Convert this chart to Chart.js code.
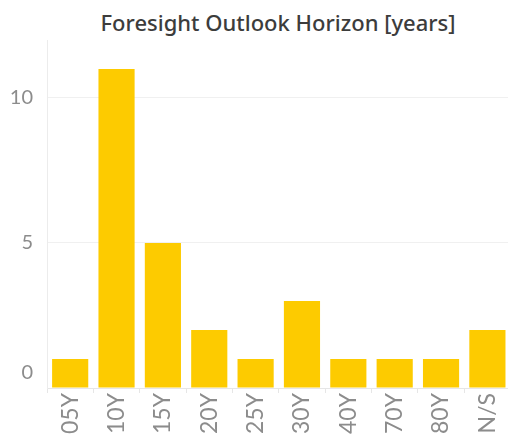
<!DOCTYPE html>
<html>
<head>
<meta charset="utf-8">
<script src="https://cdn.jsdelivr.net/npm/chart.js@4"></script>
<style>
  html, body { margin: 0; padding: 0; background: #fff; overflow: hidden; width: 508px; height: 434px; }
  #titulo { position: absolute; left: 0; top: 7px; width: 556px; text-align: center;
    font-family: "Noto Sans", sans-serif; font-size: 22px; font-weight: 500; color: #3c3c3c; }
  #wrap { position: absolute; left: 0; top: 0; width: 515px; height: 445px; }
</style>
</head>
<body>
<div id="titulo">Foresight Outlook Horizon [years]</div>
<div id="wrap"><canvas id="myChart"></canvas></div>
<script>
// categorias y cantidades
const horizontes = ['05Y', '10Y', '15Y', '20Y', '25Y', '30Y', '40Y', '70Y', '80Y', 'N/S'];
const cantidades = [1, 11, 5, 2, 1, 3, 1, 1, 1, 2];
const ticksY = [0, 5, 10];

const gris = '#8c8c8c';

// dibujo el "0" un poco mas arriba, como en el original
const etiquetaCero = {
    id: 'etiquetaCero',
    afterDraw(chart) {
        const y = chart.scales.y;
        const ctx = chart.ctx;
        ctx.save();
        ctx.font = '20px Lato, sans-serif';
        ctx.fillStyle = gris;
        ctx.textAlign = 'right';
        ctx.textBaseline = 'middle';
        ctx.fillText('0', y.right - 14, y.getPixelForValue(0) - 15);
        ctx.restore();
    }
};

const ctx = document.getElementById('myChart');
new Chart(ctx, {
    type: 'bar',
    data: {
        labels: horizontes,
        datasets: [{
            data: cantidades,
            backgroundColor: '#fdcb00',
            borderWidth: 0,
            barPercentage: 0.78,
            categoryPercentage: 1
        }]
    },
    options: {
        responsive: true,
        maintainAspectRatio: false,
        animation: false,
        layout: { padding: { top: 40, right: 0, left: 0, bottom: 0 } },
        plugins: { legend: { display: false }, title: { display: false }, tooltip: { enabled: false } },
        scales: {
            x: {
                afterFit: (s) => { s.height = 57; },
                grid: { offset: true, drawOnChartArea: false, drawTicks: true, tickLength: 5, color: '#e6e6e6' },
                border: { color: '#e6e6e6' },
                ticks: {
                    minRotation: 90, maxRotation: 90, autoSkip: false, padding: 0,
                    color: gris, font: { family: 'Lato, sans-serif', size: 23 }
                }
            },
            y: {
                min: 0, max: 12,
                afterFit: (s) => { s.width = 47; },
                afterBuildTicks: (s) => { s.ticks = ticksY.map(v => ({ value: v })); },
                grid: { drawTicks: false, color: (c) => c.tick && c.tick.value === 0 ? '#e6e6e6' : '#f0f0f0' },
                border: { color: '#ececec' },
                ticks: {
                    padding: 14,
                    color: (c) => c.tick && c.tick.value === 0 ? 'rgba(0,0,0,0)' : gris,
                    font: { family: 'Lato, sans-serif', size: 20 }
                }
            }
        }
    },
    plugins: [etiquetaCero]
});
</script>
</body>
</html>
